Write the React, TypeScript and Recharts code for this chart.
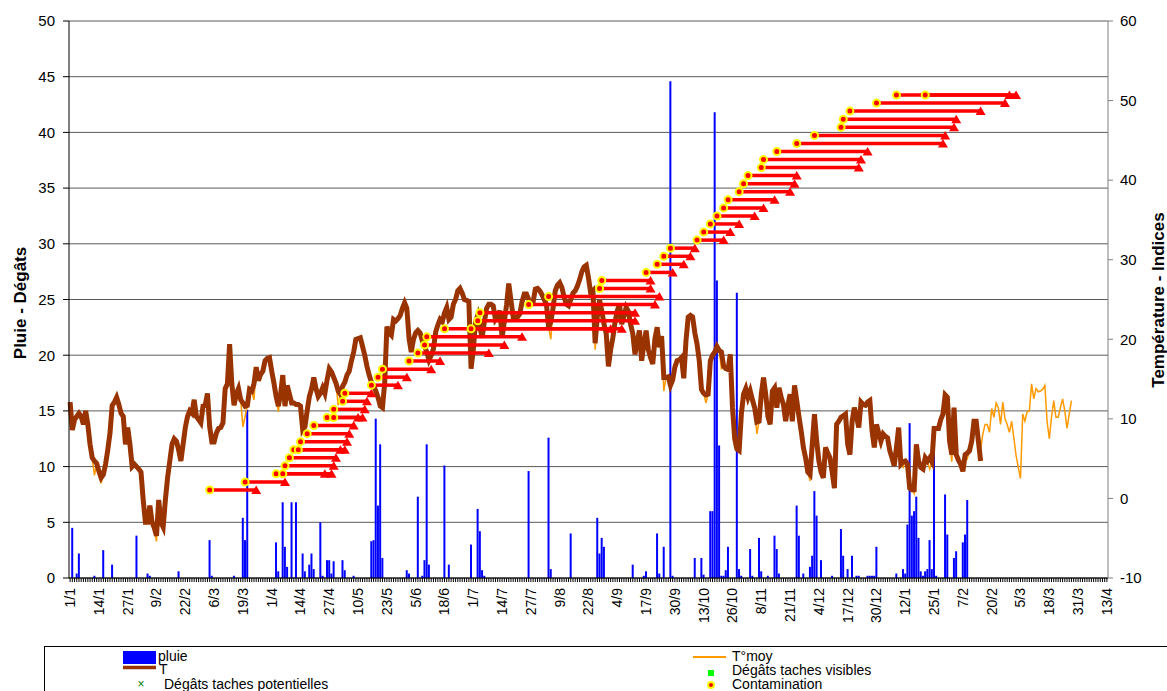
import { Bar, CartesianGrid, ComposedChart, Line, ReferenceLine, Scatter, XAxis, YAxis } from 'recharts'

// x axis: one category per day, 1/1 of a leap year up to 13/4 of the next one
const DAY_COUNT = 469
const dateTicks = [
  '1/1', '14/1', '27/1', '9/2', '22/2', '6/3', '19/3', '1/4', '14/4', '27/4', '10/5', '23/5', '5/6',
  '18/6', '1/7', '14/7', '27/7', '9/8', '22/8', '4/9', '17/9', '30/9', '13/10', '26/10', '8/11',
  '21/11', '4/12', '17/12', '30/12', '12/1', '25/1', '7/2', '20/2', '5/3', '18/3', '31/3', '13/4',
]

// daily rain (mm), days without rain are left out
const rainDays = [
  1, 3, 4, 11, 15, 19, 30, 35, 36, 49, 63, 64, 74, 78, 79, 80, 93, 94, 96, 97,
  98, 100, 102, 105, 106, 108, 109, 110, 113, 114, 116, 117, 118, 119, 123, 124, 128, 136, 137, 138,
  139, 140, 141, 152, 153, 157, 159, 160, 161, 162, 169, 171, 181, 184, 185, 186, 187, 207, 216, 217,
  226, 238, 239, 240, 241, 254, 259, 260, 265, 266, 268, 271, 272, 282, 285, 286, 289, 290, 291, 292,
  293, 294, 295, 296, 297, 301, 302, 303, 307, 308, 311, 312, 315, 318, 319, 320, 328, 329, 331, 334,
  335, 336, 337, 339, 344, 348, 349, 351, 353, 355, 356, 360, 361, 362, 363, 364, 373, 376, 377, 378,
  379, 380, 381, 382, 383, 384, 385, 386, 387, 388, 389, 390, 391, 395, 396, 399, 400, 403, 404, 405,
]
const rainMm = [
  4.5, 0.4, 2.2, 0.2, 2.5, 1.2, 3.8, 0.4, 0.2, 0.6, 3.4, 0.2, 0.2, 5.4, 3.4, 15.1, 3.2, 0.6, 6.8, 2.8,
  1.0, 6.8, 6.8, 2.2, 0.6, 1.2, 2.2, 0.8, 5.0, 0.2, 1.6, 1.6, 0.4, 1.5, 1.6, 0.7, 0.2, 3.3, 3.4, 14.3,
  6.5, 12.0, 1.8, 0.7, 0.4, 7.3, 0.2, 1.6, 12.0, 1.2, 10.1, 1.2, 3.0, 6.2, 4.2, 0.7, 0.2, 9.6, 12.6, 0.8,
  4.0, 5.4, 2.2, 3.6, 2.8, 1.2, 0.2, 0.6, 4.0, 0.4, 2.8, 44.6, 0.2, 1.8, 1.8, 0.3, 6.0, 6.0, 41.8, 26.7,
  11.9, 0.2, 0.2, 0.7, 2.8, 25.6, 0.8, 0.2, 2.6, 0.2, 3.6, 0.6, 0.2, 3.8, 2.6, 0.4, 6.5, 3.8, 0.4, 1.0,
  2.0, 7.8, 5.6, 1.6, 0.2, 4.4, 2.0, 0.8, 2.0, 0.2, 0.2, 0.2, 0.2, 0.2, 0.2, 2.8, 0.4, 0.8, 0.4, 4.8,
  13.9, 5.6, 6.0, 7.3, 3.6, 0.6, 0.2, 0.6, 0.8, 3.4, 0.8, 12.8, 0.2, 7.5, 3.9, 1.8, 2.4, 3.2, 3.9, 7.0,
]

// T (°C), daily, from 1/1
const tempT = [
  12.1, 8.6, 9.9, 10.3, 10.7, 10.3, 9.3, 11.0, 9.3, 6.8,
  5.1, 4.7, 4.4, 3.4, 2.6, 3.0, 4.3, 6.1, 8.2, 11.7,
  12.1, 12.7, 11.8, 10.7, 10.3, 6.8, 8.9, 6.8, 4.0, 4.3,
  4.0, 3.7, 3.3, -0.2, -3.0, -3.0, -0.9, -3.0, -3.7, -4.7,
  -0.2, -3.0, -3.6, -0.2, 2.6, 4.7, 6.8, 7.5, 7.2, 6.1,
  4.7, 6.8, 8.9, 10.3, 11.0, 10.7, 12.4, 10.3, 9.9, 9.5,
  11.6, 11.7, 13.2, 9.0, 7.1, 7.1, 8.2, 8.8, 8.9, 9.5,
  13.8, 14.4, 19.4, 14.4, 11.7, 13.1, 13.8, 12.4, 12.0, 11.6,
  11.7, 13.7, 13.5, 14.4, 16.5, 14.8, 15.6, 16.0, 17.3, 17.6,
  17.7, 16.0, 14.5, 12.8, 11.6, 13.1, 15.5, 11.6, 14.2, 13.1,
  12.0, 12.0, 11.8, 11.8, 11.6, 8.6, 9.0, 11.0, 12.8, 13.8,
  15.2, 13.8, 12.8, 13.2, 13.9, 13.2, 14.9, 16.3, 15.9, 15.2,
  14.5, 13.5, 13.1, 14.1, 14.6, 15.5, 16.0, 17.3, 18.4, 20.0,
  20.1, 20.2, 19.1, 18.0, 16.6, 15.5, 14.6, 14.1, 13.5, 12.7,
  11.6, 11.4, 14.5, 21.6, 20.8, 20.5, 22.5, 22.3, 22.6, 23.0,
  23.9, 24.6, 23.9, 20.1, 18.4, 20.0, 20.8, 21.1, 20.8, 19.8,
  19.1, 18.4, 17.4, 18.0, 18.8, 20.9, 21.8, 22.5, 22.2, 23.3,
  24.0, 22.5, 22.8, 24.4, 25.0, 26.1, 26.4, 25.8, 25.0, 24.9,
  24.7, 16.3, 18.7, 22.2, 23.0, 21.5, 20.2, 22.2, 23.9, 24.4,
  24.4, 24.2, 22.5, 22.9, 23.6, 20.2, 22.2, 24.3, 27.0, 24.9,
  22.8, 22.8, 22.8, 23.2, 24.7, 25.7, 25.7, 25.0, 24.4, 24.7,
  26.3, 26.4, 26.1, 25.6, 25.0, 24.4, 21.5, 22.2, 23.9, 26.1,
  26.8, 27.1, 26.5, 25.3, 24.4, 24.2, 25.0, 25.8, 26.1, 26.7,
  27.5, 28.5, 29.1, 29.3, 27.7, 25.8, 26.1, 19.5, 22.9, 24.9,
  23.6, 21.9, 20.7, 16.6, 18.7, 20.2, 22.2, 23.6, 24.4, 21.9,
  22.9, 24.0, 23.5, 21.9, 20.7, 18.1, 19.7, 21.1, 17.3, 19.4,
  21.1, 18.7, 17.7, 16.9, 20.1, 21.5, 19.0, 20.4, 15.2, 15.2,
  15.3, 14.2, 14.9, 16.5, 17.3, 17.4, 17.7, 15.1, 19.8, 22.8,
  23.0, 22.8, 20.8, 19.4, 17.3, 13.7, 13.2, 13.0, 13.1, 17.3,
  18.0, 18.4, 19.1, 18.6, 18.4, 16.6, 16.3, 16.2, 18.1, 11.4,
  7.5, 6.2, 6.0, 10.6, 13.1, 13.8, 12.7, 13.5, 12.4, 11.4,
  9.6, 9.7, 13.1, 15.2, 13.1, 10.3, 9.3, 13.5, 13.9, 11.4,
  13.9, 12.7, 11.8, 9.7, 11.7, 13.1, 9.7, 14.2, 12.3, 10.3,
  8.5, 6.4, 5.1, 3.3, 3.0, 6.8, 10.6, 7.2, 4.7, 3.3,
  2.6, 6.4, 5.7, 5.1, 3.3, 1.3, 9.3, 9.7, 10.2, 10.4,
  10.6, 6.8, 5.5, 9.7, 11.4, 10.3, 8.9, 12.1, 11.8, 11.7,
  12.1, 12.3, 8.5, 6.4, 9.3, 8.2, 7.2, 8.1, 7.8, 7.6,
  6.0, 5.1, 4.1, 6.4, 8.9, 4.3, 4.6, 4.7, 4.3, 1.3,
  1.1, 1.1, 6.8, 4.7, 3.9, 3.7, 5.1, 4.7, 5.1, 4.6,
  8.8, 8.8, 8.8, 9.9, 10.6, 13.0, 12.7, 7.2, 5.5, 11.4,
  5.5, 4.8, 4.3, 3.4, 5.5, 5.7, 6.0, 7.2, 9.7, 9.7,
  7.2, 4.7,
]

// T°moy (°C), daily, from 1/1 - runs on after T stops
const tempMoy = [
  12.1, 8.6, 9.9, 10.3, 10.7, 10.3, 9.3, 11.0, 9.3, 6.8,
  5.1, 2.9, 4.4, 3.4, 1.9, 3.0, 4.3, 6.1, 8.2, 11.7,
  12.1, 12.7, 11.8, 10.7, 10.3, 6.8, 8.9, 6.8, 4.0, 4.3,
  4.0, 3.7, 3.3, -0.2, -3.0, -3.0, -0.9, -3.0, -3.7, -5.4,
  -0.2, -3.0, -4.1, -0.2, 2.6, 4.7, 6.8, 7.5, 7.2, 6.1,
  4.7, 6.8, 8.9, 10.3, 11.0, 10.7, 12.4, 10.3, 9.9, 9.5,
  11.6, 11.7, 13.2, 9.0, 7.1, 7.1, 8.2, 8.8, 8.9, 9.5,
  13.8, 14.4, 19.4, 14.4, 11.7, 13.1, 13.8, 12.4, 9.0, 10.3,
  11.7, 13.7, 13.5, 12.4, 16.5, 14.8, 15.6, 16.0, 17.3, 17.6,
  17.7, 16.0, 14.5, 12.8, 10.9, 13.1, 15.5, 11.6, 14.2, 13.1,
  12.0, 12.0, 11.8, 11.8, 11.6, 8.6, 9.0, 10.4, 12.8, 13.8,
  15.2, 13.8, 12.8, 13.2, 13.9, 13.2, 14.9, 16.3, 15.9, 15.2,
  14.5, 11.7, 13.1, 14.1, 14.6, 15.5, 16.0, 17.3, 18.4, 20.0,
  20.1, 20.2, 19.1, 18.0, 16.6, 15.5, 14.6, 14.1, 13.5, 12.7,
  11.6, 11.4, 14.5, 21.6, 20.8, 20.5, 22.5, 22.3, 22.6, 23.0,
  23.9, 24.6, 23.9, 20.1, 18.4, 20.0, 20.8, 21.1, 20.8, 19.8,
  19.1, 18.4, 17.4, 18.0, 18.8, 20.9, 21.8, 22.5, 22.2, 23.3,
  24.0, 22.5, 22.8, 24.4, 25.0, 26.1, 26.4, 25.8, 25.0, 24.9,
  24.7, 16.3, 18.7, 22.2, 23.0, 21.5, 20.2, 22.2, 23.9, 24.4,
  24.4, 24.2, 22.5, 22.9, 23.6, 20.2, 22.2, 24.3, 27.0, 24.9,
  22.8, 22.8, 22.8, 23.2, 24.7, 25.7, 25.7, 25.0, 24.4, 24.7,
  26.3, 26.4, 26.1, 25.6, 25.0, 24.4, 21.5, 20.0, 23.9, 26.1,
  26.8, 27.1, 26.5, 25.3, 24.4, 24.2, 25.0, 25.8, 26.1, 26.7,
  27.5, 28.5, 29.1, 29.3, 27.7, 25.8, 26.1, 18.7, 22.9, 24.9,
  23.6, 21.9, 20.7, 16.6, 18.7, 20.2, 22.2, 23.6, 24.4, 21.9,
  22.9, 24.0, 23.5, 21.9, 20.7, 18.1, 19.7, 21.1, 17.3, 19.4,
  21.1, 18.7, 17.7, 16.9, 20.1, 21.5, 19.0, 20.4, 13.5, 15.2,
  15.3, 14.2, 14.9, 16.5, 17.3, 17.4, 17.7, 15.1, 19.8, 22.8,
  23.0, 22.8, 20.8, 19.4, 17.3, 13.7, 13.2, 12.0, 13.1, 17.3,
  18.0, 18.4, 19.1, 18.6, 16.3, 16.6, 16.3, 16.2, 18.1, 11.4,
  6.4, 6.2, 6.0, 10.6, 13.1, 13.8, 12.7, 13.5, 12.4, 11.4,
  8.1, 9.7, 13.1, 15.2, 13.1, 10.3, 9.3, 13.5, 13.9, 11.4,
  13.9, 12.7, 11.8, 9.7, 11.7, 13.1, 9.7, 14.2, 12.3, 10.3,
  8.5, 6.4, 5.1, 3.3, 2.2, 6.8, 10.6, 7.2, 4.7, 3.3,
  2.6, 6.4, 5.7, 5.1, 3.3, 1.3, 9.3, 9.7, 10.2, 10.4,
  10.6, 6.8, 5.5, 9.7, 11.4, 10.3, 8.9, 12.1, 11.8, 11.7,
  12.1, 12.3, 8.5, 6.4, 9.3, 8.2, 6.4, 8.1, 7.8, 7.6,
  6.0, 5.1, 4.1, 6.4, 8.9, 4.3, 3.9, 4.7, 4.3, 1.3,
  1.1, 0.6, 6.8, 4.7, 3.9, 3.7, 5.1, 4.7, 3.7, 4.6,
  8.8, 8.8, 8.8, 9.9, 10.6, 13.0, 12.7, 7.2, 4.6, 11.4,
  5.5, 4.8, 4.3, 3.4, 5.5, 5.0, 6.0, 7.2, 9.7, 9.7,
  7.2, 6.1, 8.1, 9.3, 9.3, 8.3, 11.3, 10.2, 12.0, 11.4,
  9.3, 12.1, 10.0, 9.3, 8.3, 9.7, 7.6, 5.4, 3.9, 2.5,
  10.6, 9.7, 10.9, 11.0, 14.4, 12.5, 13.8, 13.4, 13.5, 13.7,
  14.2, 9.7, 7.5, 10.2, 12.3, 10.2, 10.2, 11.4, 12.5, 11.0,
  8.8, 10.6, 12.3,
]

// contamination (start day) -> dégâts (end day), one row per event
const contStart = [
  63, 79, 93, 96, 97, 99, 101, 103, 104, 107, 110, 116, 119, 119, 123, 124, 136, 139, 141, 153,
  157, 160, 161, 169, 181, 184, 185, 207, 216, 239, 240, 260, 265, 268, 271, 283, 286, 289, 292, 295,
  297, 302, 304, 306, 312, 313, 319, 328, 336, 348, 349, 352, 364, 373, 386,
]
const contEnd = [
  84, 97, 115, 118, 119, 120, 122, 124, 125, 126, 128, 130, 132, 133, 134, 136, 148, 152, 163, 167,
  189, 196, 204, 244, 249, 255, 255, 264, 266, 262, 262, 272, 277, 280, 282, 295, 298, 302, 309, 313,
  318, 325, 327, 328, 356, 357, 360, 394, 395, 399, 400, 411, 422, 424, 427,
]
const contLevel = [
  7.9, 8.62, 9.35, 9.35, 10.07, 10.79, 11.52, 11.52, 12.24, 12.96, 13.69, 14.41, 14.41, 15.14, 15.86, 16.58, 17.31, 18.03, 18.75, 19.48,
  20.2, 20.92, 21.65, 22.37, 22.37, 23.09, 23.82, 24.54, 25.26, 25.99, 26.71, 27.43, 28.16, 28.88, 29.61, 30.33, 31.05, 31.78, 32.5, 33.22,
  33.95, 34.67, 35.39, 36.12, 36.84, 37.56, 38.29, 39.01, 39.73, 40.46, 41.18, 41.91, 42.63, 43.35, 43.35,
]

const leftTicks = [0, 5, 10, 15, 20, 25, 30, 35, 40, 45, 50]
const rightTicks = [-10, 0, 10, 20, 30, 40, 50, 60]

const rainByDay = new Map(rainDays.map((d, i) => [d, rainMm[i]]))
const data = Array.from({ length: DAY_COUNT }, (_, d) => ({
  d,
  pluie: rainByDay.get(d) ?? 0,
  t: d < tempT.length ? tempT[d] : null,
  tmoy: d < tempMoy.length ? tempMoy[d] : null,
}))
const allDays = data.map((r) => r.d)
const contaminations = contStart.map((d, i) => ({ d, level: contLevel[i] }))
const damages = contEnd.map((d, i) => ({ d, level: contLevel[i] }))

const FONT = "'Liberation Sans', Arial, sans-serif"

function DayTick({ x, y, payload }: any) {
  const d = payload.value
  if (d % 13 !== 0) return <g />
  return (
    <text x={x} y={y} dy="0.35em" transform={`rotate(-90, ${x}, ${y})`} textAnchor="end" fontSize={14} fill="#000">
      {dateTicks[d / 13]}
    </text>
  )
}

const ContaminationDot = ({ cx, cy }: any) => (
  <circle cx={cx} cy={cy} r={3.5} fill="#FF0000" stroke="#FFFF00" strokeWidth={2} />
)

const DamageTriangle = ({ cx, cy }: any) => (
  <polygon points={`${cx - 5},${cy + 4} ${cx + 5},${cy + 4} ${cx},${cy - 4.5}`} fill="#FF0000" />
)

function LegendBox() {
  return (
    <svg width={1167} height={691} style={{ position: 'absolute', left: 0, top: 0, pointerEvents: 'none' }}>
      <text x={20} y={303} transform="rotate(-90, 20, 303)" textAnchor="middle" dominantBaseline="central" fontWeight="bold" fontSize={17}>
        Pluie - Dégâts
      </text>
      <text x={1158} y={300} transform="rotate(-90, 1158, 300)" textAnchor="middle" dominantBaseline="central" fontWeight="bold" fontSize={17}>
        Température - Indices
      </text>

      <rect x={44.5} y={646.5} width={1140} height={60} fill="none" stroke="#000" />
      <g fontSize={14} fill="#000">
        <rect x={123} y={651} width={33} height={13} fill="#0000FF" />
        <text x={158} y={661}>pluie</text>
        <line x1={123} x2={156} y1={667.5} y2={667.5} stroke="#993300" strokeWidth={3.5} />
        <text x={159} y={674}>T</text>
        <text x={141} y={688} textAnchor="middle" fill="#008000" fontSize={12}>×</text>
        <text x={164} y={689}>Dégâts taches potentielles</text>

        <line x1={693} x2={726} y1={657} y2={657} stroke="#FF9900" strokeWidth={2} />
        <text x={732} y={661}>T°moy</text>
        <rect x={708} y={670} width={6} height={6} fill="#00FF00" />
        <text x={732} y={675}>Dégâts taches visibles</text>
        <circle cx={711} cy={685} r={3} fill="#FF0000" stroke="#FFFF00" strokeWidth={2} />
        <text x={732} y={689}>Contamination</text>
      </g>
    </svg>
  )
}

export default function App() {
  return (
    <div style={{ position: 'absolute', left: 0, top: 0, width: 1167, height: 691, overflow: 'hidden', background: '#fff', fontFamily: FONT }}>
      <ComposedChart width={1167} height={645} data={data} margin={{ top: 21, right: 0, bottom: 0, left: 0 }}>
        <CartesianGrid yAxisId="left" vertical={false} stroke="#5a5a5a" />
        <XAxis
          type="number"
          dataKey="d"
          domain={[-0.5, DAY_COUNT - 0.5]}
          ticks={allDays}
          interval={0}
          tick={<DayTick />}
          tickSize={4}
          tickMargin={6}
          height={67}
          axisLine={{ stroke: '#000' }}
          tickLine={{ stroke: '#000' }}
        />
        <YAxis
          yAxisId="left"
          domain={[0, 50]}
          ticks={leftTicks}
          width={69}
          tickSize={6}
          tickMargin={8}
          tick={{ fontSize: 15, fill: '#000' }}
          axisLine={{ stroke: '#000' }}
          tickLine={{ stroke: '#000' }}
        />
        <YAxis
          yAxisId="right"
          orientation="right"
          domain={[-10, 60]}
          ticks={rightTicks}
          width={59}
          tickSize={5}
          tickMargin={7}
          tick={{ fontSize: 15, fill: '#000' }}
          axisLine={{ stroke: '#808080' }}
          tickLine={{ stroke: '#808080' }}
        />
        <Bar yAxisId="left" dataKey="pluie" fill="#0000FF" barSize={2} isAnimationActive={false} />
        <Line yAxisId="right" dataKey="tmoy" stroke="#FF9900" strokeWidth={1.5} dot={false} isAnimationActive={false} />
        <Line yAxisId="right" dataKey="t" stroke="#993300" strokeWidth={5} dot={false} isAnimationActive={false} />
        {contStart.map((s, i) => (
          <ReferenceLine
            key={`seg-${i}`}
            yAxisId="left"
            segment={[{ x: s, y: contLevel[i] }, { x: contEnd[i], y: contLevel[i] }]}
            stroke="#FF0000"
            strokeWidth={3.5}
          />
        ))}
        <Scatter yAxisId="left" data={damages} dataKey="level" shape={<DamageTriangle />} isAnimationActive={false} />
        <Scatter yAxisId="left" data={contaminations} dataKey="level" shape={<ContaminationDot />} isAnimationActive={false} />
      </ComposedChart>
      <LegendBox />
    </div>
  )
}
